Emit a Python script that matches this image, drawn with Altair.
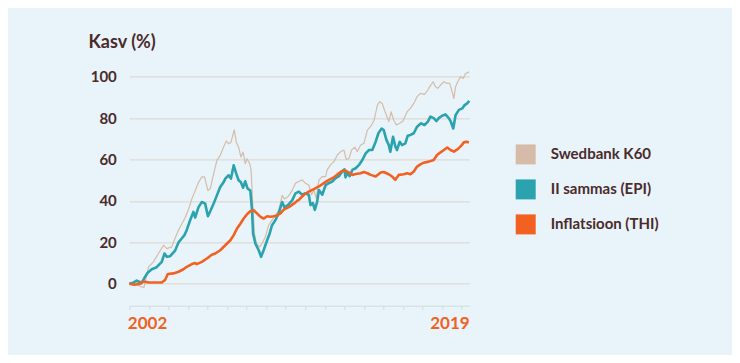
import altair as alt
import pandas as pd

# ---- data ----
series_names = ["Swedbank K60", "II sammas (EPI)", "Inflatsioon (THI)"]
series_colors = ["#D6BCA8", "#2AA3AE", "#F26122"]

k60_t = [2002.0, 2002.2, 2002.38, 2002.63, 2002.75, 2002.98, 2003.23, 2003.49, 2003.75, 2003.92,
         2004.17, 2004.34, 2004.52, 2004.69, 2004.86, 2005.03, 2005.2, 2005.37, 2005.54, 2005.71,
         2005.85, 2006.02, 2006.14, 2006.31, 2006.48, 2006.65, 2006.82, 2006.96, 2007.08, 2007.2,
         2007.37, 2007.47, 2007.59, 2007.71, 2007.82, 2007.93, 2008.02, 2008.16, 2008.23, 2008.33,
         2008.4, 2008.5, 2008.67, 2008.79, 2008.96, 2009.13, 2009.3, 2009.47, 2009.64, 2009.82,
         2009.93, 2010.11, 2010.33, 2010.5, 2010.67, 2010.84, 2011.01, 2011.18, 2011.32, 2011.44,
         2011.56, 2011.7, 2011.87, 2012.04, 2012.12, 2012.29, 2012.47, 2012.64, 2012.81, 2012.98,
         2013.1, 2013.24, 2013.37, 2013.54, 2013.66, 2013.83, 2014.0, 2014.18, 2014.35, 2014.52,
         2014.69, 2014.81, 2014.94, 2015.01, 2015.18, 2015.27, 2015.39, 2015.52, 2015.66, 2015.83,
         2016.0, 2016.21, 2016.38, 2016.55, 2016.72, 2016.89, 2017.1, 2017.27, 2017.4, 2017.54,
         2017.66, 2017.78, 2017.92, 2018.09, 2018.26, 2018.39, 2018.51, 2018.6, 2018.69, 2018.8,
         2018.94, 2019.08, 2019.2, 2019.32, 2019.39]
k60_v = [0, 0.5, -0.5, -1.5, -1.8, 8, 10.6, 14.6, 18.6, 17,
         17.8, 22, 26, 29, 32, 36, 41, 45, 49, 51.6,
         51.6, 45, 46, 53, 59.6, 62, 66, 69, 67.6, 68.4,
         74.4, 68.4, 66, 61.2, 63.6, 58, 60.4, 58, 54.8, 35.5,
         24.3, 19.4, 17.8, 19.4, 22.7, 28.3, 30.7, 33, 35.5, 42.7,
         41, 42, 45, 48.6, 49.4, 50.2, 48.6, 47.7, 43, 45.3,
         41.3, 50.2, 51.8, 51.8, 55, 57.4, 59, 62.2, 63.8, 64.6,
         60, 60.6, 64.6, 66, 63.8, 67, 67.8, 74.3, 76, 79,
         86.3, 88, 87, 85, 80.7, 78.3, 83.1, 79.1, 76.7, 77.5,
         78.6, 83.1, 84.7, 87.1, 90.4, 92, 91.5, 93.6, 95.7, 97.6,
         95.2, 94.4, 96, 97.6, 96.8, 96.8, 92.8, 89.5, 95.2, 97.6,
         100, 99.2, 101.6, 102.1, 102.4]

epi_t = [2002.0, 2002.2, 2002.38, 2002.5, 2002.63, 2002.81, 2002.94, 2003.15, 2003.4, 2003.66,
         2003.8, 2003.92, 2004.09, 2004.34, 2004.52, 2004.69, 2004.82, 2004.94, 2005.11, 2005.28,
         2005.37, 2005.54, 2005.71, 2005.88, 2006.02, 2006.14, 2006.31, 2006.48, 2006.65, 2006.82,
         2006.91, 2007.08, 2007.2, 2007.34, 2007.47, 2007.59, 2007.71, 2007.82, 2007.93, 2008.05,
         2008.19, 2008.28, 2008.33, 2008.45, 2008.62, 2008.74, 2008.87, 2009.05, 2009.18, 2009.3,
         2009.47, 2009.64, 2009.82, 2009.93, 2010.11, 2010.33, 2010.5, 2010.67, 2010.84, 2011.01,
         2011.18, 2011.27, 2011.39, 2011.49, 2011.61, 2011.7, 2011.87, 2012.04, 2012.21, 2012.38,
         2012.55, 2012.72, 2012.89, 2013.0, 2013.06, 2013.15, 2013.27, 2013.41, 2013.58, 2013.75,
         2013.92, 2014.09, 2014.26, 2014.43, 2014.6, 2014.74, 2014.91, 2015.01, 2015.15, 2015.27,
         2015.35, 2015.49, 2015.61, 2015.69, 2015.83, 2015.95, 2016.12, 2016.24, 2016.38, 2016.55,
         2016.72, 2016.92, 2017.1, 2017.27, 2017.4, 2017.57, 2017.71, 2017.83, 2018.0, 2018.17,
         2018.34, 2018.43, 2018.57, 2018.69, 2018.86, 2019.03, 2019.15, 2019.28, 2019.39]
epi_v = [0, 0.5, 1.5, 1, 0.3, 3.4, 5.3, 7, 8, 10.6,
         14.6, 13, 13.3, 16, 20, 22, 23.5, 26, 30.7, 34.7,
         32, 37, 39.5, 38.7, 32.6, 35, 38.7, 42.7, 46.7, 49,
         50.8, 52.4, 50.8, 57.2, 53.2, 50, 49, 46.4, 49.5, 46,
         45, 35.5, 24.3, 19.4, 16.2, 13, 16.2, 21, 24.3, 28.3,
         30.7, 34, 39.5, 37, 38, 40.3, 43.7, 44.5, 43, 43.7,
         43, 38, 39, 35.7, 39.7, 45.3, 43, 47.7, 48.6, 49.4,
         51, 52, 54.2, 55.3, 51.4, 53.4, 52, 55, 55.8, 57.4,
         59.8, 63, 64.6, 64.6, 68.6, 72.7, 75, 74.3, 69.5, 67,
         63.8, 71, 66.2, 64.6, 68.6, 67, 67.8, 71.5, 71.9, 72.7,
         75.9, 77.5, 76.7, 78.3, 80.7, 80, 78.6, 80, 81.2, 81.8,
         80, 78.6, 75, 81.5, 84, 84.7, 86.3, 87.1, 88.3]

thi_t = [2002.0, 2002.26, 2002.55, 2002.63, 2002.81, 2002.98, 2003.66, 2003.83, 2003.97, 2004.26,
         2004.52, 2004.77, 2004.94, 2005.2, 2005.37, 2005.45, 2005.71, 2005.97, 2006.22, 2006.4,
         2006.65, 2006.91, 2007.17, 2007.34, 2007.51, 2007.68, 2007.85, 2008.02, 2008.19, 2008.36,
         2008.53, 2008.7, 2008.87, 2009.05, 2009.22, 2009.39, 2009.56, 2009.73, 2009.9, 2010.16,
         2010.41, 2010.58, 2010.67, 2010.93, 2011.18, 2011.44, 2011.7, 2011.95, 2012.21, 2012.47,
         2012.72, 2012.89, 2013.06, 2013.24, 2013.41, 2013.58, 2013.83, 2014.0, 2014.18, 2014.35,
         2014.6, 2014.86, 2015.01, 2015.27, 2015.44, 2015.61, 2015.78, 2016.04, 2016.21, 2016.38,
         2016.55, 2016.72, 2016.89, 2017.06, 2017.32, 2017.57, 2017.74, 2017.92, 2018.09, 2018.26,
         2018.43, 2018.6, 2018.8, 2018.98, 2019.11, 2019.25, 2019.37]
thi_v = [0, -0.5, 0, 1, 1, 0.6, 0.6, 1.8, 4.7, 5,
         5.8, 7, 8.2, 9.5, 10, 9.5, 10.6, 12.2, 14, 14.6,
         16.2, 18.6, 21, 23.5, 26.7, 29, 31.5, 33.6, 35, 35.5,
         34, 32.4, 31.5, 32.6, 32.4, 32.6, 33, 34, 35.8, 37,
         38.7, 40, 40.5, 43, 44.5, 45.7, 47, 48.6, 50.2, 51.4,
         53.4, 54.5, 54.7, 53.7, 52.6, 53, 53.4, 54, 53.4, 52.6,
         51.8, 53.7, 54, 52.9, 51.8, 50.2, 52.6, 52.9, 53.4, 52.9,
         54.2, 56.6, 57.7, 58.5, 59, 59.8, 62.2, 63.5, 64.6, 65.8,
         64.6, 63.8, 65, 66.7, 68.3, 68.6, 68.2]

year_ticks = list(range(2002, 2020))
y_ticks = [0, 20, 40, 60, 80, 100]

frames = []
for name, t, v in zip(series_names, [k60_t, epi_t, thi_t], [k60_v, epi_v, thi_v]):
    frames.append(pd.DataFrame({"t": t, "v": v, "series": name}))
df = pd.concat(frames, ignore_index=True)

BG = "#E8F4FA"
TXT = "#4A2B2B"
FONT = "Lato"

x_enc = alt.X(
    "t:Q",
    scale=alt.Scale(domain=[2002, 2019.39], nice=False, zero=False),
    axis=alt.Axis(
        values=year_ticks,
        title=None,
        grid=False,
        domain=True,
        domainColor="#D3DADD",
        domainWidth=1,
        ticks=True,
        tickColor="#D3DADD",
        tickSize=4,
        labelExpr="(datum.value == 2002 || datum.value == 2019) ? datum.value : ''",
        labelAlign={"condition": {"test": "datum.value == 2019", "value": "right"}, "value": "left"},
        labelOffset={"condition": {"test": "datum.value == 2019", "value": 7.5}, "value": -2},
        labelFont=FONT,
        labelFontSize=17,
        labelFontWeight="bold",
        labelColor="#F26122",
        labelPadding=6,
        labelOverlap=False,
        labelFlush=False,
        labelBound=False,
    ),
)

y_enc = alt.Y(
    "v:Q",
    scale=alt.Scale(domain=[-10.6, 105], nice=False, zero=False),
    axis=alt.Axis(
        values=y_ticks,
        title="Kasv (%)",
        titleAngle=0,
        titleAlign="left",
        titleBaseline="middle",
        titleX=-41.3,
        titleY=-24.4,
        titleFont=FONT,
        titleFontSize=18,
        titleFontWeight="bold",
        titleColor=TXT,
        domain=False,
        ticks=False,
        tickSize=0,
        grid=True,
        gridColor="#DCD3CA",
        gridWidth=1,
        labelFont=FONT,
        labelFontSize=15,
        labelFontWeight="bold",
        labelColor=TXT,
        labelPadding=13,
    ),
)

color_enc = alt.Color(
    "series:N",
    scale=alt.Scale(domain=series_names, range=series_colors),
    legend=alt.Legend(
        title=None,
        orient="none",
        legendX=386.4,
        legendY=78,
        symbolType="square",
        symbolSize=100,
        symbolStrokeWidth=10,
        symbolOpacity=1,
        labelFont=FONT,
        labelFontSize=15,
        labelFontWeight="bold",
        labelColor=TXT,
        labelOffset=15,
        rowPadding=-16,
        padding=0,
    ),
)

widths = [1.2, 2.6, 2.6]
layers = []
for name, w in zip(series_names, widths):
    layers.append(
        alt.Chart(df)
        .transform_filter(alt.datum.series == name)
        .mark_line(strokeWidth=w, strokeJoin="round")
        .encode(x=x_enc, y=y_enc, color=color_enc)
    )

chart = (
    alt.layer(*layers)
    .properties(
        width=340,
        height=239.3,
        background=BG,
        padding={"left": 121.3, "top": 58.4, "right": 262.7, "bottom": 49.3},
        autosize=alt.AutoSizeParams(type="none"),
    )
    .configure_view(stroke=None)
)

chart.save("out.html", embed_options={"renderer": "svg", "actions": False})
